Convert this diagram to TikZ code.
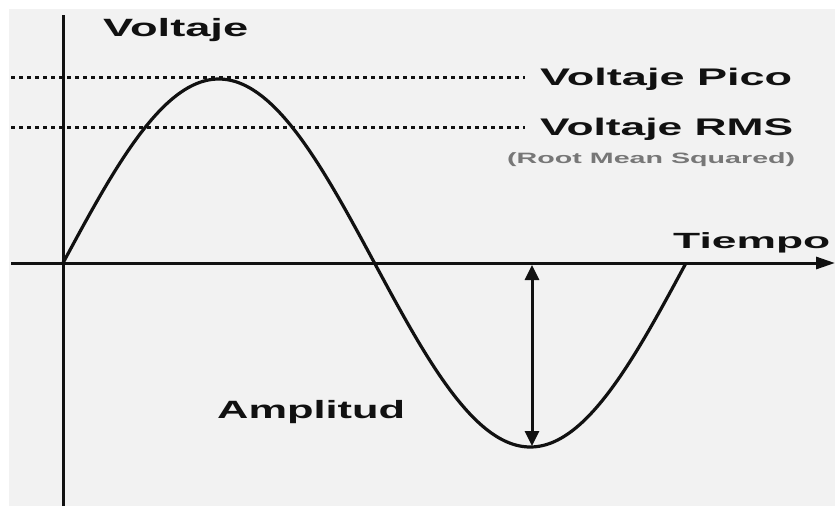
\documentclass[tikz,border=0pt]{standalone}
\usepackage{fontspec}
\usepackage{graphicx}
\setmainfont{Liberation Sans}
\usetikzlibrary{arrows.meta}
\definecolor{bgc}{HTML}{F2F2F2}
\definecolor{ink}{HTML}{111111}
\definecolor{subc}{HTML}{777777}
\newcommand{\wtext}[3]{\resizebox{#1pt}{\height}{\fontsize{#2}{#2}\selectfont #3}}
\tikzset{
  lbl/.style={inner sep=0pt, anchor=base west, text=ink, font=\bfseries},
  sublbl/.style={inner sep=0pt, anchor=base west, text=subc, font=\bfseries},
  axisline/.style={draw=ink, line width=3pt},
  wave/.style={draw=ink, line width=3.2pt},
  refline/.style={draw=ink, line width=3pt, dash pattern=on 4pt off 4pt},
  amparrow/.style={draw=ink, line width=3pt, {Triangle[length=15pt,width=14pt]}-{Triangle[length=15pt,width=14pt]}}
}
\begin{document}
\begin{tikzpicture}[x=1pt,y=-1pt]
\useasboundingbox (0,0) rectangle (835,506);
\fill[white] (0,0) rectangle (835,506);
\fill[bgc] (9,9) rectangle (835,506);
% coordinates
\coordinate (yb) at (63,506);
\coordinate (yt) at (63,15);
\coordinate (xl) at (11,263);
\coordinate (xr) at (835,263);
\coordinate (p1) at (11,77);
\coordinate (p2) at (525,77);
\coordinate (r1) at (11,127);
\coordinate (r2) at (525,127);
\coordinate (at) at (532,265);
\coordinate (ab) at (532,446);
% dotted reference lines
\draw[refline] (p1) -- (p2);
\draw[refline] (r1) -- (r2);
% axes
\draw[axisline] (yb) -- (yt);
\draw[axisline, -{Triangle[length=19pt,width=12pt]}] (xl) -- (xr);
% sine wave
\draw[wave, line join=round] plot[domain=0:623, samples=240, smooth] ({63+\x},{263-184*sin(\x/623*360)});
% amplitude arrow
\draw[amparrow] (at) -- (ab);
% labels
\node[lbl] (volt) at (103,36) {\wtext{145}{25}{Voltaje}};
\node[lbl] (pico) at (540,85) {\wtext{252}{24}{Voltaje Pico}};
\node[lbl] (rms) at (540,135) {\wtext{253}{24}{Voltaje RMS}};
\node[sublbl] (rmsd) at (507,163) {\wtext{288}{15}{(Root Mean Squared)}};
\node[lbl] (tiempo) at (673,248) {\wtext{157}{22}{Tiempo}};
\node[lbl] (amp) at (217,418) {\wtext{188}{25}{Amplitud}};
\end{tikzpicture}
\end{document}
